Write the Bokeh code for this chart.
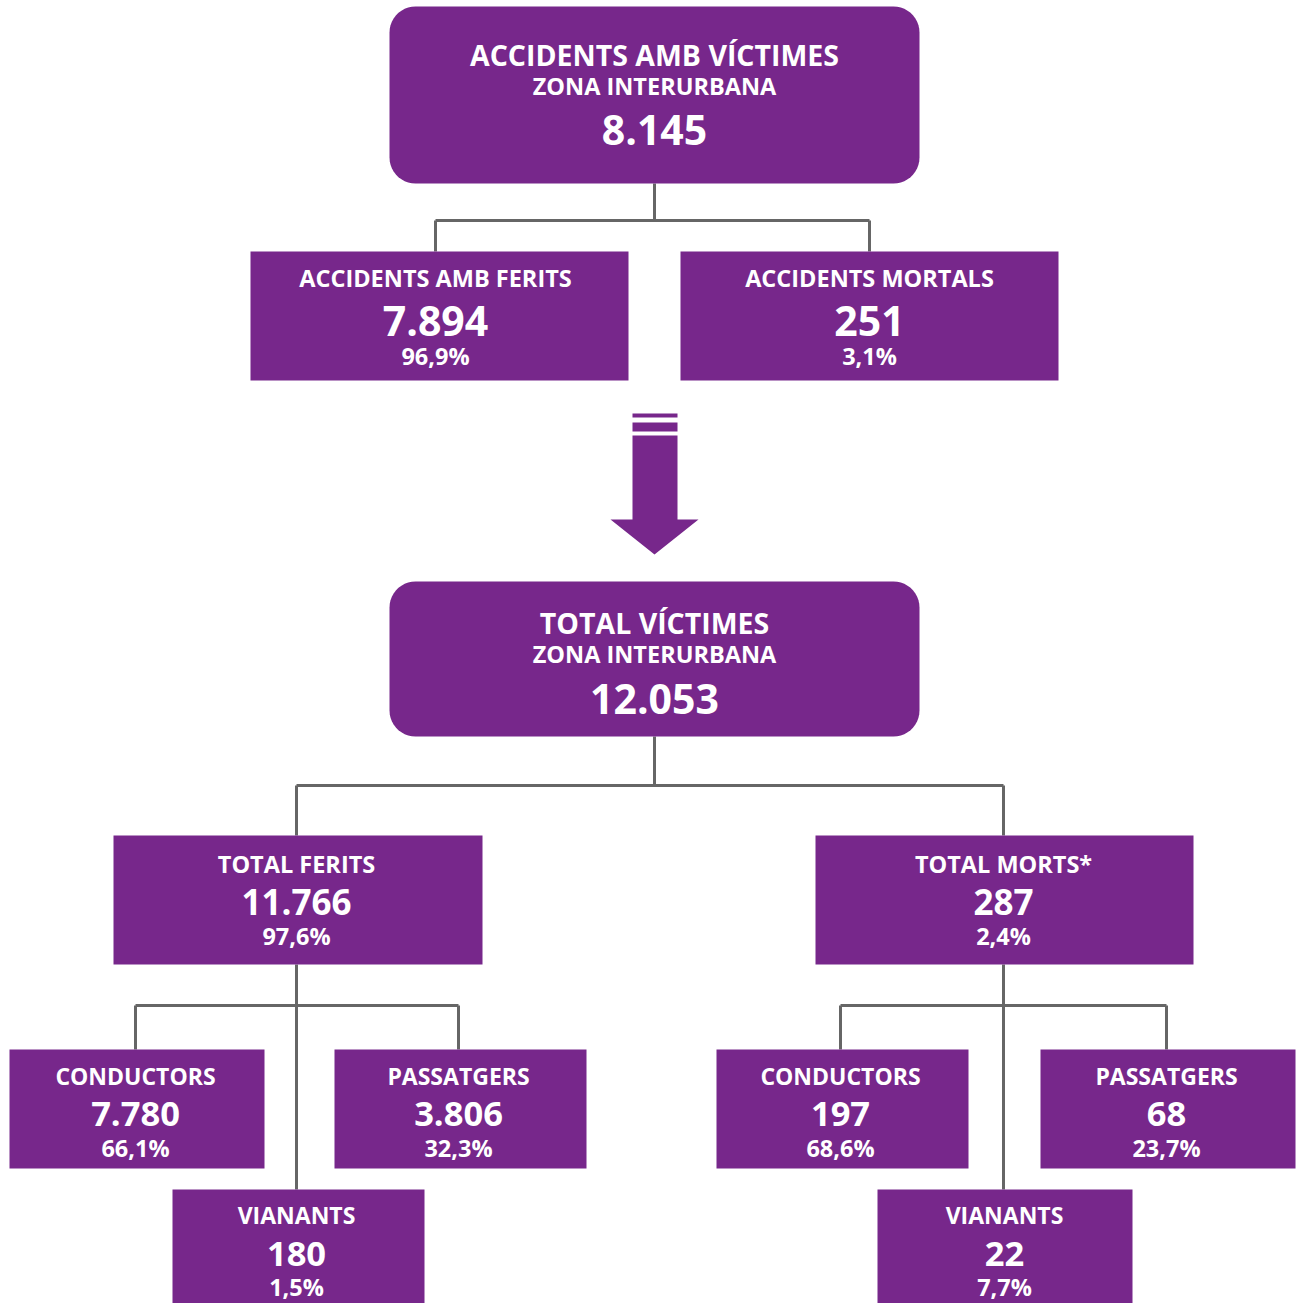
import numpy as np
from bokeh.plotting import figure
from bokeh.models import Range1d
from bokeh.core.properties import value
from bokeh.embed import file_html
from bokeh.resources import INLINE

# ---------------- data ----------------
labels = ["ACCIDENTS AMB VÍCTIMES", "ACCIDENTS AMB FERITS", "ACCIDENTS MORTALS",
          "TOTAL VÍCTIMES", "TOTAL FERITS", "TOTAL MORTS*",
          "CONDUCTORS", "PASSATGERS", "VIANANTS",
          "CONDUCTORS", "PASSATGERS", "VIANANTS"]
subtitles = ["ZONA INTERURBANA", None, None, "ZONA INTERURBANA", None, None,
             None, None, None, None, None, None]
counts = [8145, 7894, 251, 12053, 11766, 287, 7780, 3806, 180, 197, 68, 22]
percents = [None, 96.9, 3.1, None, 97.6, 2.4, 66.1, 32.3, 1.5, 68.6, 23.7, 7.7]
parents = [None, 0, 0, None, 3, 3, 4, 4, 4, 5, 5, 5]

# ---------------- layout (reference pixel space) ----------------
# left, right, top, bottom, rounded
boxes = [
    (389, 919, 6, 183, True),
    (250, 628, 251, 380, False),
    (680, 1058, 251, 380, False),
    (389, 919, 581, 736, True),
    (113, 482, 835, 964, False),
    (815, 1193, 835, 964, False),
    (9, 264, 1049, 1168, False),
    (334, 586, 1049, 1168, False),
    (172, 424, 1189, 1310, False),
    (716, 968, 1049, 1168, False),
    (1040, 1295, 1049, 1168, False),
    (877, 1132, 1189, 1310, False),
]
# text rows: (title_y, subtitle_y, number_y, pct_y)
rows = [
    (54, 85, 129, None),
    (277, None, 320, 355),
    (277, None, 320, 355),
    (622, 653, 698, None),
    (863, None, 901, 935),
    (863, None, 901, 935),
    (1075, None, 1113, 1147),
    (1075, None, 1113, 1147),
    (1214, None, 1253, 1286),
    (1075, None, 1113, 1147),
    (1075, None, 1113, 1147),
    (1214, None, 1253, 1286),
]
# font sizes: (title, subtitle, number, pct)
sizes = [
    (28.5, 23.5, 41, None),
    (23.5, None, 41, 23.5),
    (23.5, None, 41, 23.5),
    (28.5, 23.5, 41, None),
    (23.5, None, 35, 23.5),
    (23.5, None, 35, 23.5),
    (23, None, 34.5, 23.5),
    (23, None, 34.5, 23.5),
    (23, None, 34.5, 23.5),
    (23, None, 34.5, 23.5),
    (23, None, 34.5, 23.5),
    (23, None, 34.5, 23.5),
]
text_x = [654, 435, 869, 654, 296, 1003, 135, 458, 296, 840, 1166, 1004]
# connector bus levels
bus_y = {0: 220, 3: 785, 4: 1005, 5: 1005}
stem_x = {0: 654, 3: 654, 4: 296, 5: 1003}

PURPLE = "#77278B"
GREY = "#666666"
W, H = 1300, 1303

p = figure(width=W, height=H, output_backend="svg", toolbar_location=None,
           x_range=Range1d(0, 1300), y_range=Range1d(1303, 0),
           min_border=0)
p.axis.visible = False
p.grid.visible = False
p.outline_line_color = None
p.background_fill_color = "white"
p.border_fill_color = "white"

# ---------------- connectors ----------------
xs, ys = [], []
for parent, sx in stem_x.items():
    kids = [i for i, q in enumerate(parents) if q == parent]
    ptop = boxes[parent][3]
    by = bus_y[parent]
    side = [k for k in kids if abs(text_x[k] - sx) > 5]
    mid = [k for k in kids if abs(text_x[k] - sx) <= 5]
    if mid:
        xs.append([sx, sx]); ys.append([ptop, boxes[mid[0]][2]])
    else:
        xs.append([sx, sx]); ys.append([ptop, by])
    sxs = [text_x[k] for k in side]
    xs.append([min(sxs), max(sxs)]); ys.append([by, by])
    for k in side:
        xs.append([text_x[k], text_x[k]]); ys.append([by, boxes[k][2]])
p.multi_line(xs, ys, line_color=GREY, line_width=3)

# ---------------- arrow ----------------
p.quad(left=[632, 632], right=[677, 677], top=[413, 422], bottom=[417, 431],
       fill_color=PURPLE, line_color=None)
p.patch([632, 677, 677, 698, 654, 610, 632], [435, 435, 519, 519, 554, 519, 519],
        fill_color=PURPLE, line_color=None)

# ---------------- boxes ----------------
def rounded(l, r, t, b, rad):
    px, py = [], []
    corners = [(r - rad, t + rad, -90, 0), (r - rad, b - rad, 0, 90),
               (l + rad, b - rad, 90, 180), (l + rad, t + rad, 180, 270)]
    for cx, cy, a0, a1 in corners:
        a = np.radians(np.linspace(a0, a1, 12))
        px.extend(cx + rad * np.cos(a)); py.extend(cy + rad * np.sin(a))
    return px, py

for (l, r, t, b, rnd) in boxes:
    if rnd:
        px, py = rounded(l, r, t, b, 26)
        p.patch(px, py, fill_color=PURPLE, line_color=None)
    else:
        p.quad(left=[l], right=[r], top=[t], bottom=[b], fill_color=PURPLE, line_color=None)

# ---------------- texts ----------------
def fmt_int(v):
    return f"{v:,}".replace(",", ".")

def fmt_pct(v):
    return f"{v:.1f}".replace(".", ",") + "%"

def put(x, y, s, size):
    p.text(x=[x], y=[y], text=[s], text_align="center", text_baseline="middle",
           text_color="white", text_font=value("Open Sans"), text_font_style="bold",
           text_font_size=f"{size:.1f}px")

for i in range(len(labels)):
    ty, sy, ny, py_ = rows[i]
    st, ss, sn, sp = sizes[i]
    put(text_x[i], ty, labels[i], st)
    if subtitles[i]:
        put(text_x[i], sy, subtitles[i], ss)
    put(text_x[i], ny, fmt_int(counts[i]), sn)
    if percents[i] is not None:
        put(text_x[i], py_, fmt_pct(percents[i]), sp)

open("out.html", "w").write(file_html(p, INLINE))
